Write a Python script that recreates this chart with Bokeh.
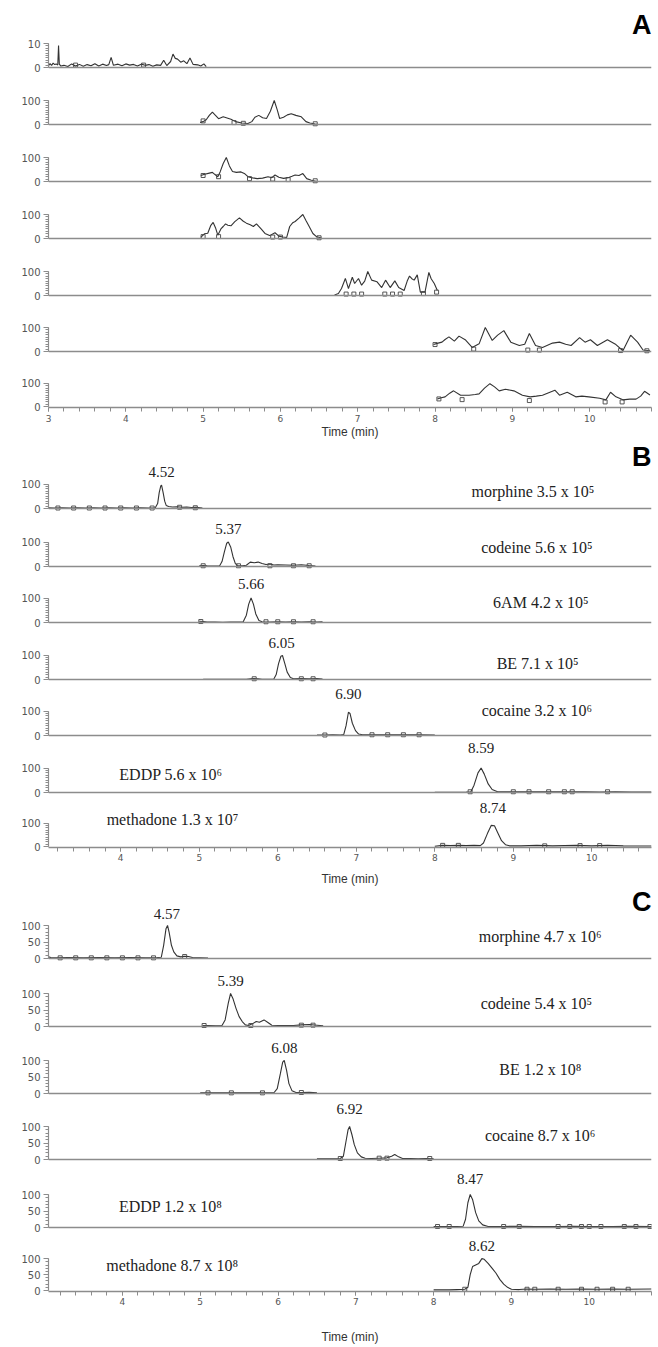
from bokeh.plotting import figure
from bokeh.layouts import column
from bokeh.models import Range1d, SingleIntervalTicker, FixedTicker, Label
from bokeh.core.properties import value
from bokeh.embed import file_html
from bokeh.resources import INLINE

# ---------------- data ----------------
# Panel A (blank) – relative abundance, min
A1_x = [3.00, 3.02, 3.04, 3.06, 3.08, 3.10, 3.12, 3.13, 3.14, 3.16, 3.20, 3.25, 3.30, 3.35, 3.40, 3.45, 3.50, 3.55,
        3.60, 3.65, 3.70, 3.75, 3.78, 3.81, 3.84, 3.90, 3.95, 4.00, 4.05, 4.10, 4.15, 4.20, 4.25, 4.30, 4.35, 4.40,
        4.45, 4.49, 4.53, 4.58, 4.61, 4.64, 4.67, 4.71, 4.75, 4.79, 4.83, 4.87, 4.93, 4.97, 5.01, 5.04]
A1_y = [0.8, 1.6, 0.9, 1.8, 1.2, 1.5, 1.0, 9.2, 1.4, 0.6, 0.9, 0.4, 1.5, 0.6, 1.3, 0.5, 1.2, 0.7,
        1.6, 0.6, 1.4, 0.8, 1.2, 4.2, 0.9, 1.4, 0.7, 1.5, 1.0, 1.3, 0.6, 1.4, 0.9, 1.2, 0.5, 1.1,
        0.9, 3.0, 0.8, 2.5, 5.6, 3.8, 3.5, 2.2, 2.8, 1.6, 4.0, 1.3, 1.1, 0.6, 1.5, 0.4]
A1_sq_x = [3.35, 4.23]
A1_sq_y = [1.0, 1.0]

A2_x = [4.96, 5.00, 5.04, 5.08, 5.12, 5.16, 5.20, 5.26, 5.31, 5.36, 5.42, 5.50, 5.58, 5.63, 5.67, 5.72, 5.77, 5.82,
        5.87, 5.92, 5.96, 5.99, 6.04, 6.09, 6.14, 6.20, 6.27, 6.33, 6.38, 6.45, 6.49]
A2_y = [8, 12, 20, 38, 52, 38, 24, 32, 27, 22, 12, 6, 4, 12, 30, 38, 28, 25, 55, 100, 60, 25, 30, 40, 45, 38, 32,
        12, 6, 2, 0]
A2_sq_x = [5.00, 5.40, 5.52, 6.45]
A2_sq_y = [15, 8, 5, 3]

A3_x = [4.97, 5.02, 5.08, 5.12, 5.15, 5.19, 5.22, 5.26, 5.30, 5.34, 5.38, 5.43, 5.49, 5.54, 5.58, 5.64, 5.70, 5.77,
        5.84, 5.89, 5.93, 5.98, 6.04, 6.10, 6.15, 6.19, 6.24, 6.29, 6.34, 6.40, 6.47]
A3_y = [25, 30, 35, 38, 30, 20, 40, 75, 100, 65, 42, 38, 40, 32, 20, 15, 12, 14, 20, 16, 27, 18, 13, 16, 22, 27,
        25, 33, 12, 5, 0]
A3_sq_x = [5.00, 5.20, 5.60, 5.90, 6.10, 6.45]
A3_sq_y = [25, 20, 12, 10, 8, 3]

A4_x = [4.97, 5.02, 5.06, 5.10, 5.13, 5.16, 5.19, 5.23, 5.26, 5.29, 5.32, 5.36, 5.41, 5.47, 5.52, 5.56, 5.61, 5.65,
        5.69, 5.75, 5.80, 5.86, 5.93, 5.98, 6.03, 6.08, 6.12, 6.16, 6.19, 6.24, 6.29, 6.33, 6.36, 6.42, 6.47, 6.53]
A4_y = [5, 20, 22, 55, 67, 45, 14, 40, 50, 61, 55, 53, 70, 86, 72, 64, 57, 50, 61, 40, 21, 12, 24, 10, 6, 4, 50,
        66, 71, 85, 100, 75, 57, 21, 7, 2]
A4_sq_x = [5.00, 5.20, 5.90, 6.00, 6.50]
A4_sq_y = [8, 8, 6, 6, 3]

A5_x = [6.70, 6.75, 6.79, 6.84, 6.88, 6.93, 6.96, 7.01, 7.05, 7.09, 7.13, 7.18, 7.25, 7.31, 7.36, 7.42, 7.48, 7.53,
        7.60, 7.64, 7.67, 7.70, 7.73, 7.77, 7.81, 7.87, 7.92, 7.95, 7.99, 8.03]
A5_y = [2, 8, 29, 71, 29, 76, 50, 71, 43, 60, 100, 64, 57, 33, 64, 33, 61, 33, 21, 60, 81, 70, 64, 86, 14, 14, 96,
        70, 50, 21]
A5_sq_x = [6.85, 6.95, 7.05, 7.35, 7.45, 7.55, 7.85, 8.02]
A5_sq_y = [6, 6, 6, 6, 6, 6, 8, 14]

A6_x = [7.98, 8.04, 8.09, 8.13, 8.18, 8.25, 8.31, 8.39, 8.48, 8.57, 8.65, 8.74, 8.81, 8.89, 8.98, 9.09, 9.16, 9.22,
        9.30, 9.39, 9.52, 9.61, 9.69, 9.76, 9.87, 9.94, 10.01, 10.10, 10.23, 10.34, 10.43, 10.53, 10.62, 10.69, 10.78]
A6_y = [29, 35, 39, 50, 61, 43, 64, 49, 17, 32, 100, 46, 68, 87, 39, 25, 30, 75, 25, 17, 35, 39, 30, 25, 58, 39,
        49, 25, 49, 29, 3, 68, 39, 6, 3]
A6_sq_x = [8.00, 8.50, 9.20, 9.35, 10.40, 10.74]
A6_sq_y = [29, 10, 6, 6, 4, 3]

A7_x = [8.03, 8.08, 8.13, 8.19, 8.24, 8.33, 8.44, 8.52, 8.57, 8.64, 8.71, 8.77, 8.83, 8.91, 9.02, 9.13, 9.23, 9.31,
        9.39, 9.47, 9.55, 9.61, 9.71, 9.82, 9.90, 9.99, 10.13, 10.21, 10.27, 10.34, 10.43, 10.52, 10.60, 10.66,
        10.71, 10.78]
A7_y = [33, 38, 42, 58, 68, 49, 49, 52, 55, 80, 99, 85, 68, 75, 68, 49, 42, 45, 49, 60, 71, 49, 62, 42, 45, 42, 36,
        29, 62, 42, 29, 32, 32, 45, 66, 50]
A7_sq_x = [8.05, 8.35, 9.22, 10.20, 10.42]
A7_sq_y = [33, 30, 26, 20, 20]

# Panel B
B_rt = [4.52, 5.37, 5.66, 6.05, 6.90, 8.59, 8.74]
B_names = ["morphine", "codeine", "6AM", "BE", "cocaine", "EDDP", "methadone"]
B_mant = ["3.5", "5.6", "4.2", "7.1", "3.2", "5.6", "1.3"]
B_exp = [5, 5, 5, 5, 6, 6, 7]

B1_x = [3.08, 3.15, 3.25, 3.35, 3.45, 3.55, 3.65, 3.75, 3.85, 3.95, 4.05, 4.15, 4.25, 4.35, 4.44, 4.47, 4.49, 4.51,
        4.52, 4.54, 4.56, 4.58, 4.61, 4.66, 4.72, 4.78, 4.84, 4.90, 4.96, 5.04]
B1_y = [3, 2, 3, 2, 3, 2, 3, 2, 3, 2, 3, 2, 3, 2, 3, 20, 65, 92, 95, 65, 30, 12, 8, 6, 7, 5, 6, 4, 5, 2]
B1_sq_x = [3.20, 3.40, 3.60, 3.80, 4.00, 4.20, 4.40, 4.75, 4.95]
B1_sq_y = [2, 2, 2, 2, 2, 2, 2, 5, 3]

B2_x = [5.00, 5.05, 5.10, 5.18, 5.26, 5.29, 5.32, 5.35, 5.37, 5.40, 5.43, 5.46, 5.49, 5.55, 5.60, 5.65, 5.70, 5.75,
        5.80, 5.85, 5.90, 5.95, 6.00, 6.10, 6.20, 6.30, 6.40, 6.48]
B2_y = [3, 4, 3, 2, 3, 20, 60, 95, 100, 80, 40, 12, 4, 3, 5, 18, 15, 18, 12, 8, 10, 6, 7, 6, 5, 7, 4, 2]
B2_sq_x = [5.05, 5.50, 5.90, 6.20, 6.40]
B2_sq_y = [3, 3, 3, 3, 3]

B3_x = [5.00, 5.05, 5.10, 5.20, 5.30, 5.40, 5.50, 5.56, 5.60, 5.63, 5.66, 5.69, 5.72, 5.76, 5.80, 5.90, 6.00, 6.10,
        6.20, 6.30, 6.40, 6.50, 6.57]
B3_y = [5, 4, 2, 2, 1, 2, 2, 3, 30, 75, 100, 75, 35, 8, 3, 2, 3, 2, 3, 2, 3, 2, 3]
B3_sq_x = [5.02, 5.85, 6.00, 6.20, 6.45]
B3_sq_y = [4, 3, 3, 3, 3]

B4_x = [5.05, 5.30, 5.60, 5.68, 5.75, 5.80, 5.95, 5.98, 6.01, 6.04, 6.06, 6.09, 6.12, 6.16, 6.20, 6.30, 6.40, 6.50,
        6.57]
B4_y = [1, 1, 1, 4, 3, 1, 2, 20, 65, 95, 98, 65, 30, 8, 3, 4, 3, 4, 2]
B4_sq_x = [5.70, 6.30, 6.45]
B4_sq_y = [3, 3, 3]

B5_x = [6.50, 6.60, 6.70, 6.80, 6.84, 6.87, 6.90, 6.92, 6.95, 6.99, 7.03, 7.08, 7.20, 7.40, 7.60, 7.80, 8.00]
B5_y = [2, 2, 3, 2, 4, 40, 95, 90, 50, 20, 6, 3, 3, 3, 3, 3, 2]
B5_sq_x = [6.60, 7.20, 7.40, 7.60, 7.80]
B5_sq_y = [2, 3, 3, 3, 3]

B6_x = [8.00, 8.20, 8.40, 8.46, 8.50, 8.55, 8.59, 8.63, 8.68, 8.73, 8.80, 8.90, 9.10, 9.30, 9.50, 9.70, 9.90,
        10.10, 10.30, 10.50, 10.76]
B6_y = [1, 1, 2, 3, 30, 80, 100, 75, 35, 12, 3, 3, 3, 3, 3, 3, 3, 2, 3, 2, 2]
B6_sq_x = [8.45, 9.00, 9.20, 9.45, 9.65, 9.75, 10.20]
B6_sq_y = [3, 3, 3, 3, 3, 3, 3]

B7_x = [8.00, 8.10, 8.20, 8.30, 8.40, 8.50, 8.58, 8.62, 8.67, 8.72, 8.76, 8.80, 8.85, 8.90, 8.95, 9.10, 9.30,
        9.50, 9.80, 10.00, 10.20, 10.40, 10.76]
B7_y = [1, 5, 4, 5, 4, 5, 4, 15, 55, 90, 88, 60, 25, 8, 3, 3, 5, 3, 5, 3, 5, 3, 2]
B7_sq_x = [8.10, 8.30, 9.40, 9.85, 10.10]
B7_sq_y = [5, 5, 3, 4, 4]

# Panel C
C_rt = [4.57, 5.39, 6.08, 6.92, 8.47, 8.62]
C_names = ["morphine", "codeine", "BE", "cocaine", "EDDP", "methadone"]
C_mant = ["4.7", "5.4", "1.2", "8.7", "1.2", "8.7"]
C_exp = [6, 5, 8, 6, 8, 8]

C1_x = [3.05, 3.08, 3.15, 3.30, 3.50, 3.70, 3.90, 4.10, 4.30, 4.45, 4.50, 4.53, 4.56, 4.58, 4.60, 4.63, 4.66, 4.70,
        4.75, 4.80, 4.85, 4.90, 5.00, 5.10]
C1_y = [5, 3, 2, 3, 2, 3, 2, 3, 2, 3, 4, 40, 90, 100, 80, 40, 20, 8, 5, 7, 6, 3, 2, 1]
C1_sq_x = [3.20, 3.40, 3.60, 3.80, 4.00, 4.20, 4.40, 4.80]
C1_sq_y = [2, 2, 2, 2, 2, 2, 2, 6]

C2_x = [5.03, 5.10, 5.20, 5.28, 5.32, 5.36, 5.39, 5.42, 5.46, 5.50, 5.54, 5.58, 5.62, 5.67, 5.72, 5.76, 5.82, 5.87,
        5.92, 6.00, 6.10, 6.20, 6.30, 6.40, 6.50, 6.58]
C2_y = [3, 3, 2, 3, 20, 70, 100, 85, 55, 30, 15, 5, 3, 8, 15, 13, 20, 12, 4, 3, 3, 3, 5, 6, 4, 2]
C2_sq_x = [5.05, 5.65, 6.30, 6.45]
C2_sq_y = [3, 3, 4, 4]

C3_x = [5.00, 5.20, 5.40, 5.60, 5.80, 5.95, 5.99, 6.03, 6.06, 6.08, 6.11, 6.14, 6.18, 6.23, 6.30, 6.40, 6.50]
C3_y = [2, 2, 2, 2, 2, 3, 15, 60, 95, 100, 70, 30, 8, 3, 3, 4, 2]
C3_sq_x = [5.10, 5.40, 5.80, 6.30]
C3_sq_y = [2, 2, 2, 3]

C4_x = [6.50, 6.60, 6.70, 6.80, 6.84, 6.87, 6.90, 6.92, 6.95, 6.98, 7.02, 7.07, 7.12, 7.20, 7.30, 7.40, 7.46, 7.50,
        7.55, 7.60, 7.70, 7.80, 7.90, 8.00]
C4_y = [2, 2, 2, 3, 10, 50, 90, 100, 75, 45, 20, 8, 4, 3, 4, 5, 10, 15, 8, 3, 3, 2, 3, 2]
C4_sq_x = [6.80, 7.30, 7.40, 7.95]
C4_sq_y = [3, 4, 4, 3]

C5_x = [8.00, 8.10, 8.20, 8.30, 8.38, 8.41, 8.44, 8.47, 8.50, 8.54, 8.58, 8.63, 8.70, 8.90, 9.10, 9.30, 9.60,
        9.80, 10.00, 10.30, 10.50, 10.80]
C5_y = [3, 3, 3, 3, 4, 25, 75, 100, 85, 45, 20, 8, 3, 3, 4, 3, 3, 4, 3, 3, 4, 3]
C5_sq_x = [8.05, 8.20, 8.90, 9.10, 9.60, 9.75, 9.90, 10.00, 10.15, 10.45, 10.60, 10.78]
C5_sq_y = [3, 3, 3, 3, 3, 3, 3, 3, 3, 3, 3, 3]

C6_x = [8.00, 8.10, 8.20, 8.30, 8.40, 8.44, 8.47, 8.50, 8.54, 8.58, 8.62, 8.65, 8.70, 8.75, 8.80, 8.85, 8.90, 8.95,
        9.00, 9.10, 9.20, 9.30, 9.50, 9.70, 9.90, 10.10, 10.30, 10.50, 10.80]
C6_y = [2, 2, 2, 3, 4, 10, 50, 75, 80, 85, 100, 98, 85, 70, 55, 35, 20, 10, 4, 3, 5, 4, 5, 4, 5, 4, 5, 4, 5]
C6_sq_x = [8.40, 9.20, 9.30, 9.60, 9.90, 10.10, 10.30, 10.50]
C6_sq_y = [4, 4, 4, 4, 4, 4, 4, 4]

# ---------------- layout / style ----------------
W = 658
LEFT = 48
RIGHT = 7
TRACE = "#333333"
AXC = "#8c8c8c"
SERIF = "Liberation Serif"
SANS = "DejaVu Sans"
SUP = str.maketrans("0123456789", "⁰¹²³⁴⁵⁶⁷⁸⁹")
PAD = 6  # px of white below the baseline for traces without tick labels


def make_trace(xr, top, baseline, k, x, y, sqx, sqy, interval, nminor, ymax, axis=None):
    below = 1 if axis else PAD
    fh = baseline + below - top
    y0 = -below / k
    y1 = y0 + fh / k
    bb = axis["border"] if axis else 0
    p = figure(width=W, height=fh + bb, x_range=Range1d(*xr), y_range=Range1d(y0, y1),
               output_backend="svg", toolbar_location=None,
               min_border_left=LEFT, min_border_right=RIGHT, min_border_top=0, min_border_bottom=bb)
    p.grid.visible = False
    p.outline_line_color = None

    ya = p.yaxis[0]
    ya.ticker = SingleIntervalTicker(interval=interval, num_minor_ticks=nminor)
    ya.bounds = (0, ymax)
    ya.axis_line_color = AXC
    ya.axis_line_width = 1.2
    ya.major_tick_line_color = AXC
    ya.minor_tick_line_color = AXC
    ya.major_tick_out = 5
    ya.major_tick_in = 0
    ya.minor_tick_out = 3
    ya.minor_tick_in = 0
    ya.major_label_text_font = SANS
    ya.major_label_text_font_size = "10px"
    ya.major_label_text_color = "#555555"
    ya.major_label_standoff = 3

    xa = p.xaxis[0]
    xa.axis_line_color = AXC
    xa.axis_line_width = 1.5
    if axis is None:
        xa.fixed_location = 0
        xa.ticker = FixedTicker(ticks=[])
        xa.major_tick_line_color = None
        xa.minor_tick_line_color = None
        xa.major_label_text_font_size = "0px"
    else:
        xa.ticker = SingleIntervalTicker(interval=1, num_minor_ticks=5)
        xa.major_tick_line_color = AXC
        xa.minor_tick_line_color = AXC
        xa.major_tick_out = 4
        xa.major_tick_in = 0
        xa.minor_tick_out = 4
        xa.minor_tick_in = 0
        xa.major_label_text_font = SANS
        xa.major_label_text_font_size = "9px"
        xa.major_label_text_color = "#555555"
        xa.major_label_standoff = axis["lstand"]
        xa.axis_label = "Time (min)"
        xa.axis_label_text_font = "Liberation Sans"
        xa.axis_label_text_font_size = "12px"
        xa.axis_label_text_font_style = "normal"
        xa.axis_label_text_color = "#333333"
        xa.axis_label_standoff = axis["astand"]

    p.line(x, y, line_color=TRACE, line_width=1.1)
    p.scatter(sqx, sqy, marker="square", size=4, fill_color=None, line_color="#444444", line_width=0.9)
    return p, baseline + below + bb


def peak_label(p, rt, yv):
    p.text(x=[rt], y=[yv], text=["%.2f" % rt], text_font=value(SERIF), text_font_size="15px",
           text_align="center", text_baseline="middle", text_color="#222222")


def conc_label(p, xv, yv, name, mant, exp):
    txt = "%s %s x 10%s" % (name, mant, str(exp).translate(SUP))
    p.text(x=[xv], y=[yv], text=[txt], text_font=value(SERIF), text_font_size="16px",
           text_align="center", text_baseline="middle", text_color="#222222")


def letter(p, xv, yv, t):
    p.add_layout(Label(x=xv, y=yv, text=t, text_font="Liberation Sans", text_font_style="bold",
                       text_font_size="27px", text_align="right", text_baseline="middle",
                       text_color="#000000"))


figs = []

# ---- Panel A ----
XA = (3.0, 10.80)
A_base = [67, 124, 181, 238, 295, 351, 408]
A_data = [(A1_x, A1_y, A1_sq_x, A1_sq_y), (A2_x, A2_y, A2_sq_x, A2_sq_y), (A3_x, A3_y, A3_sq_x, A3_sq_y),
          (A4_x, A4_y, A4_sq_x, A4_sq_y), (A5_x, A5_y, A5_sq_x, A5_sq_y), (A6_x, A6_y, A6_sq_x, A6_sq_y),
          (A7_x, A7_y, A7_sq_x, A7_sq_y)]
top = 0
for i, (bl, (x, y, sx, sy)) in enumerate(zip(A_base, A_data)):
    last = i == len(A_base) - 1
    ax = dict(border=32, lstand=3, astand=0) if last else None
    if i == 0:
        p, top = make_trace(XA, top, bl, 2.4, x, y, sx, sy, 10, 10, 10, ax)
        letter(p, XA[1], 17.9, "A")
    else:
        p, top = make_trace(XA, top, bl, 0.24, x, y, sx, sy, 100, 10, 100, ax)
    figs.append(p)

# ---- Panel B ----
XB = (3.08, 10.76)
B_base = [508, 566, 622, 679, 735, 792, 848]
B_data = [(B1_x, B1_y, B1_sq_x, B1_sq_y), (B2_x, B2_y, B2_sq_x, B2_sq_y), (B3_x, B3_y, B3_sq_x, B3_sq_y),
          (B4_x, B4_y, B4_sq_x, B4_sq_y), (B5_x, B5_y, B5_sq_x, B5_sq_y), (B6_x, B6_y, B6_sq_x, B6_sq_y),
          (B7_x, B7_y, B7_sq_x, B7_sq_y)]
B_peak_y = [147, 155, 159, 151, 171, 180, 163]
B_lab_x = [9.25, 9.30, 9.35, 9.31, 9.30, 4.64, 4.66]
B_lab_y = [69, 78, 82, 65, 102, 73, 114]
for i, (bl, (x, y, sx, sy)) in enumerate(zip(B_base, B_data)):
    last = i == len(B_base) - 1
    ax = dict(border=39, lstand=2, astand=8) if last else None
    p, top = make_trace(XB, top, bl, 0.245, x, y, sx, sy, 100, 10, 100, ax)
    peak_label(p, B_rt[i], B_peak_y[i])
    conc_label(p, B_lab_x[i], B_lab_y[i], B_names[i], B_mant[i], B_exp[i])
    if i == 0:
        letter(p, XB[1], 212, "B")
    figs.append(p)

# ---- Panel C ----
XC = (3.05, 10.80)
C_base = [958, 1026, 1093, 1159, 1227, 1292]
C_data = [(C1_x, C1_y, C1_sq_x, C1_sq_y), (C2_x, C2_y, C2_sq_x, C2_sq_y), (C3_x, C3_y, C3_sq_x, C3_sq_y),
          (C4_x, C4_y, C4_sq_x, C4_sq_y), (C5_x, C5_y, C5_sq_x, C5_sq_y), (C6_x, C6_y, C6_sq_x, C6_sq_y)]
C_peak_y = [136, 139, 139, 152, 148, 139]
C_lab_x = [9.37, 9.32, 9.37, 9.37, 4.62, 4.64]
C_lab_y = [67, 70, 73, 73, 64, 79]
for i, (bl, (x, y, sx, sy)) in enumerate(zip(C_base, C_data)):
    last = i == len(C_base) - 1
    ax = dict(border=53, lstand=2, astand=22) if last else None
    p, top = make_trace(XC, top, bl, 0.33, x, y, sx, sy, 50, 5, 100, ax)
    peak_label(p, C_rt[i], C_peak_y[i])
    conc_label(p, C_lab_x[i], C_lab_y[i], C_names[i], C_mant[i], C_exp[i])
    if i == 0:
        letter(p, XC[1], 170, "C")
    figs.append(p)

layout = column(*figs, spacing=0)
open("out.html", "w").write(file_html(layout, INLINE, "Chromatograms"))
